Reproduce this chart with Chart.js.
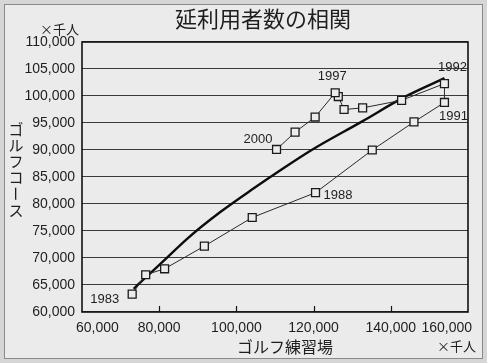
<!DOCTYPE html>
<html><head><meta charset="utf-8">
<script src="https://cdn.jsdelivr.net/npm/chart.js@4/dist/chart.umd.min.js"></script>
<style>html,body{margin:0;padding:0;background:#dadada;}#wrap{width:487px;height:363px;}</style>
</head><body><div id="wrap"><canvas id="c" width="487" height="363"></canvas></div>
<script>
// ---- data ----
const years = [1983,1984,1985,1986,1987,1988,1989,1990,1991,1992,1993,1994,1995,1996,1997,1998,1999,2000];
const practiceRange = [73000,76500,81400,91700,104100,120500,135200,146000,153900,153900,142800,132700,127900,126400,125600,120400,115200,110400];
const golfCourse = [63300,66900,68000,72200,77500,82100,90000,95200,98800,102300,99200,97800,97500,99900,100600,96100,93300,90100];
const trendX = [73400,76500,81200,87300,96000,104700,111300,119500,132600,143000,153900];
const trendY = [64300,66400,69500,73600,78600,83000,86200,90000,95300,99600,103300];
const yTicks = [60000,65000,70000,75000,80000,85000,90000,95000,100000,105000,110000];
const xTicks = [60000,80000,100000,120000,140000,160000];
const labeledYears = [1983,1988,1991,1992,1997,2000];
const title = '延利用者数の相関';
const xTitle = 'ゴルフ練習場';
const yTitle = 'ゴルフコース';
const unit = '×千人';

const fmt = v => v.toLocaleString('en-US');
const JP = '"Noto Sans CJK JP", sans-serif';
const NUM = '"Liberation Sans", Arial, sans-serif';
const INK = '#1e1e1e';

const labelPos = {1983:['right',-13,5],1988:['left',8,3],1991:['center',9,14],1992:['center',8,-16],1997:['center',-3,-16],2000:['right',-4,-10]};

const deco = {
  id:'deco',
  beforeDraw(chart){
    const c = chart.ctx, W = chart.width, H = chart.height;
    c.save();
    c.fillStyle = '#d6d6d6'; c.fillRect(0,0,W,H);
    c.fillStyle = '#ebebeb'; c.fillRect(4,4,W-9,H-9);
    c.strokeStyle = '#8a8a8a'; c.lineWidth = 1; c.strokeRect(4.5,4.5,W-9,H-9);
    c.restore();
  },
  afterDraw(chart){
    const c = chart.ctx, a = chart.chartArea, xs = chart.scales.x, ys = chart.scales.y;
    c.save();
    // plot frame
    c.strokeStyle = '#111'; c.lineWidth = 1.6;
    c.strokeRect(a.left, a.top, a.right-a.left, a.bottom-a.top);
    // inner x ticks
    c.lineWidth = 1.2;
    xTicks.slice(1,-1).forEach(v=>{const px=Math.round(xs.getPixelForValue(v))+0.5;c.beginPath();c.moveTo(px,a.bottom);c.lineTo(px,a.bottom-6);c.stroke();});
    // x tick labels (kept inside the frame at the ends)
    c.fillStyle = INK; c.font = '14px '+NUM; c.textBaseline='middle'; c.textAlign='left';
    xTicks.forEach(v=>{const t=fmt(v);const w=c.measureText(t).width;let px=xs.getPixelForValue(v)-w/2;px=Math.max(a.left-6,Math.min(a.right+4-w,px));c.fillText(t,px,a.bottom+16);});
    // year labels
    c.font = '13px '+NUM;
    labeledYears.forEach(y=>{const i=years.indexOf(y);const p=labelPos[y];const px=xs.getPixelForValue(practiceRange[i]);const py=ys.getPixelForValue(golfCourse[i]);c.textAlign=p[0];c.fillText(String(y),px+p[1],py+p[2]);});
    // title
    c.textAlign='center'; c.font='22px '+JP; c.fillText(title,263,19);
    // units
    c.font='13px '+JP; c.textAlign='left'; c.fillText(unit,40,29); c.fillText(unit,437,346);
    // x title
    c.font='16px '+JP; c.textAlign='center'; c.fillText(xTitle,285,347);
    // y title vertical
    c.font='15px '+JP;
    [...yTitle].forEach((ch,i)=>{const cy=129+i*16.2;if(ch==='ー'){c.save();c.translate(16,cy);c.rotate(Math.PI/2);c.fillText(ch,0,0);c.restore();}else c.fillText(ch,16,cy);});
    c.restore();
  }
};

new Chart(document.getElementById('c'),{
  type:'scatter',
  data:{datasets:[
    {data:trendX.map((x,i)=>({x,y:trendY[i]})),showLine:true,borderColor:'#0d0d0d',borderWidth:2.4,pointRadius:0,cubicInterpolationMode:'monotone',order:2},
    {data:practiceRange.map((x,i)=>({x,y:golfCourse[i]})),showLine:true,borderColor:'#2a2a2a',borderWidth:1,pointStyle:'rect',pointRadius:5.6,pointBorderWidth:1.3,pointBorderColor:'#1a1a1a',pointBackgroundColor:'#ececec',tension:0,order:1}
  ]},
  options:{
    responsive:false,animation:false,devicePixelRatio:1,
    layout:{padding:{top:42,right:19,left:0,bottom:0}},
    plugins:{legend:{display:false},tooltip:{enabled:false},title:{display:false}},
    scales:{
      x:{type:'linear',min:60000,max:160000,afterBuildTicks:s=>{s.ticks=xTicks.map(v=>({value:v}));},
        ticks:{display:false},grid:{display:false},border:{display:false},
        afterFit:s=>{s.height=51;}},
      y:{type:'linear',min:60000,max:110000,afterBuildTicks:s=>{s.ticks=yTicks.map(v=>({value:v}));},
        ticks:{color:INK,font:{family:NUM,size:14},padding:7,callback:v=>fmt(v)},
        grid:{color:'#3a3a3a',lineWidth:1.1,drawTicks:false},border:{display:false},
        afterFit:s=>{s.width=82;}}
    }
  },
  plugins:[deco]
});
</script></body></html>
